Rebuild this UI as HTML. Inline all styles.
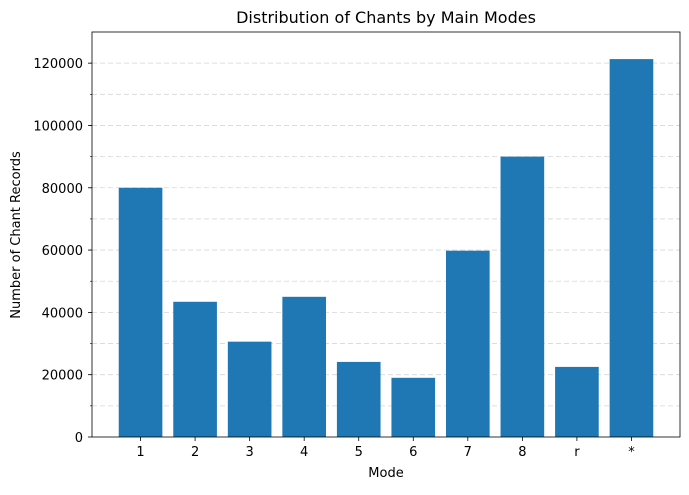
<!DOCTYPE html>
<html><head><meta charset="utf-8"><style>
body{margin:0;background:#fff;}
svg text{font-family:"DejaVu Sans","Liberation Sans",sans-serif;fill:#000;}
</style></head><body>
<svg width="689" height="490" xmlns="http://www.w3.org/2000/svg">
<rect width="689" height="490" fill="#fff"/>
<text x="386" y="23" font-size="16" text-anchor="middle">Distribution of Chants by Main Modes</text>
<g id="grid"></g><g id="bars"></g><g id="axes"></g>
<text x="386" y="477" font-size="13" text-anchor="middle">Mode</text>
<text transform="translate(20,235) rotate(-90)" font-size="13" text-anchor="middle">Number of Chant Records</text>
</svg>
<script>
const categories=["1","2","3","4","5","6","7","8","r","*"];
const values=[80000,43400,30600,45000,24100,19000,59800,90000,22500,121300];
const yTicks=[0,20000,40000,60000,80000,100000,120000];
const L=92,R=680,T=32,B=437,yMax=130000;
const xmin=-0.89,xmax=categories.length-1+0.89;
const sx=v=>L+(v-xmin)/(xmax-xmin)*(R-L);
const sy=v=>B-v/yMax*(B-T);
const NS="http://www.w3.org/2000/svg";
function mk(t,a,p){const e=document.createElementNS(NS,t);for(const k in a)e.setAttribute(k,a[k]);p.appendChild(e);return e;}
const grid=document.getElementById('grid'),bars=document.getElementById('bars'),axes=document.getElementById('axes');
for(let v=10000;v<yMax;v+=10000){const g=mk('line',{x1:L,x2:R,y1:sy(v),y2:sy(v),stroke:'#d6d6d6','stroke-dasharray':'5,3','stroke-width':0.8},grid);


const mt=mk('line',{x1:L-2,x2:L,y1:sy(v),y2:sy(v),stroke:'#000','stroke-width':0.6},axes);

}
categories.forEach((c,i)=>{
const r=mk('rect',{x:sx(i-0.4),y:sy(values[i]),width:sx(i+0.4)-sx(i-0.4),height:B-sy(values[i]),fill:'#1f77b4'},bars);


const tk=mk('line',{x1:sx(i),x2:sx(i),y1:B,y2:B+4,stroke:'#000','stroke-width':0.8},axes);


const t=mk('text',{x:sx(i),y:B+19,'font-size':13,'text-anchor':'middle'},axes);t.textContent=c;


});
yTicks.forEach(v=>{
const tk=mk('line',{x1:L-4,x2:L,y1:sy(v),y2:sy(v),stroke:'#000','stroke-width':0.8},axes);


const t=mk('text',{x:L-9,y:sy(v)+5,'font-size':13,'text-anchor':'end'},axes);t.textContent=v;


});
const fr=mk('rect',{x:L,y:T,width:R-L,height:B-T,fill:'none',stroke:'#000','stroke-width':0.8},axes);


</script>
</body></html>
